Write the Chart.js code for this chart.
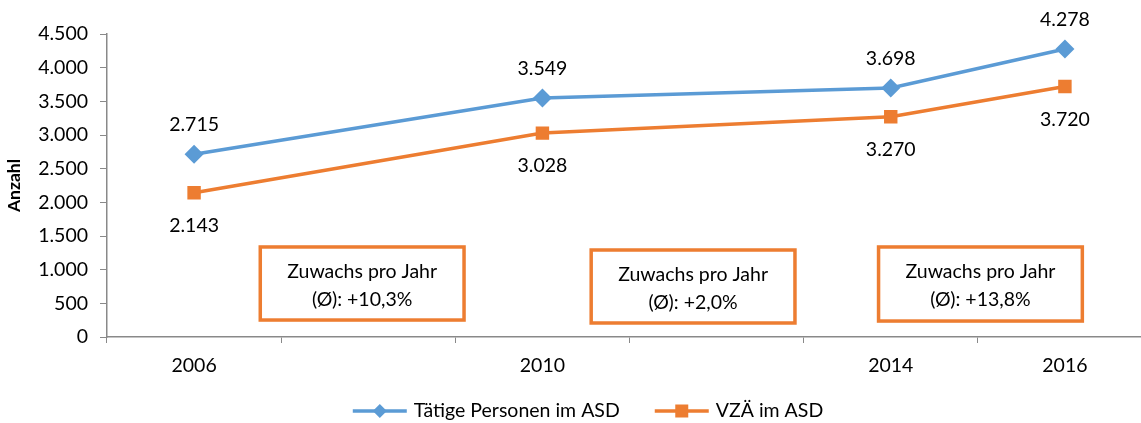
<!DOCTYPE html>
<html>
<head>
<meta charset="utf-8">
<script src="https://cdn.jsdelivr.net/npm/chart.js@4.4.0/dist/chart.umd.min.js"></script>
<style>
  html, body { margin: 0; padding: 0; overflow: hidden; background: #fff; }
  #wrap { width: 1176px; height: 423px; position: relative; }
</style>
</head>
<body>
<div id="wrap"><canvas id="chart"></canvas></div>
<script>
// categories (2008 / 2012 are empty slots on the axis)
const years = ['2006', '2008', '2010', '2012', '2014', '2016'];
const labelledYears = ['2006', '2010', '2014', '2016'];
const taetigePersonen = [2715, null, 3549, null, 3698, 4278];
const vzaeAsd = [2143, null, 3028, null, 3270, 3720];
const yMax = 4500;
const yStep = 500;
const boxTexts = [
  ['Zuwachs pro Jahr', '(Ø): +10,3%'],
  ['Zuwachs pro Jahr', '(Ø): +2,0%'],
  ['Zuwachs pro Jahr', '(Ø): +13,8%']
];

// where the text boxes sit (category index / value units)
const boxPlaces = [
  { x: 0.965, w: 1.17, top: 1337, bottom: 252 },
  { x: 2.865, w: 1.17, top: 1292, bottom: 208 },
  { x: 4.515, w: 1.17, top: 1337, bottom: 237 }
];

const FONT = 'Lato, "Open Sans", sans-serif';
const BLUE = '#5B9BD5';
const ORANGE = '#ED7D31';

function fmt(v) {
  return String(v).replace(/\B(?=(\d{3})+(?!\d))/g, '.');
}

function drawMarker(ctx, style, x, y, r, color) {
  ctx.save();
  ctx.fillStyle = color;
  ctx.beginPath();
  if (style === 'rect') {
    ctx.rect(x - r, y - r, 2 * r, 2 * r);
  } else {
    ctx.moveTo(x, y - r);
    ctx.lineTo(x + r, y);
    ctx.lineTo(x, y + r);
    ctx.lineTo(x - r, y);
    ctx.closePath();
  }
  ctx.fill();
  ctx.restore();
}

const valueLabels = {
  id: 'valueLabels',
  afterDatasetsDraw(chart) {
    const ctx = chart.ctx;
    ctx.save();
    ctx.font = '19.5px ' + FONT;
    ctx.fillStyle = '#000';
    ctx.textAlign = 'center';
    ctx.textBaseline = 'middle';
    chart.data.datasets.forEach((ds, i) => {
      chart.getDatasetMeta(i).data.forEach((pt, j) => {
        if (ds.data[j] == null) return;
        ctx.fillText(fmt(ds.data[j]), pt.x, pt.y + ds.labelShift);
      });
    });
    ctx.restore();
  }
};

const textBoxes = {
  id: 'textBoxes',
  afterDraw(chart) {
    const ctx = chart.ctx;
    const xs = chart.scales.x, ys = chart.scales.y;
    const step = xs.getPixelForValue(1) - xs.getPixelForValue(0);
    ctx.save();
    boxPlaces.forEach((b, i) => {
      const cx = xs.getPixelForValue(b.x);
      const w = b.w * step;
      const top = ys.getPixelForValue(b.top);
      const bottom = ys.getPixelForValue(b.bottom);
      ctx.fillStyle = '#fff';
      ctx.fillRect(cx - w / 2, top, w, bottom - top);
      ctx.strokeStyle = ORANGE;
      ctx.lineWidth = 3.5;
      ctx.strokeRect(cx - w / 2, top, w, bottom - top);
      ctx.fillStyle = '#000';
      ctx.font = '19.5px ' + FONT;
      ctx.textAlign = 'center';
      ctx.textBaseline = 'middle';
      const mid = (top + bottom) / 2;
      ctx.fillText(boxTexts[i][0], cx, mid - 12);
      ctx.fillText(boxTexts[i][1], cx, mid + 16);
    });
    ctx.restore();
  }
};

const lineLegend = {
  id: 'lineLegend',
  afterDraw(chart) {
    const ctx = chart.ctx;
    const y = 411, lineLen = 54, gap = 7, itemGap = 35;
    ctx.save();
    ctx.font = '19.5px ' + FONT;
    ctx.textBaseline = 'middle';
    ctx.textAlign = 'left';
    const items = chart.data.datasets.map(ds => ({ ds, tw: ctx.measureText(ds.label).width }));
    let total = 0;
    items.forEach((it, i) => { total += lineLen + gap + it.tw + (i ? itemGap : 0); });
    let x = chart.width / 2 - total / 2;
    items.forEach((it, i) => {
      if (i) x += itemGap;
      ctx.strokeStyle = it.ds.borderColor;
      ctx.lineWidth = 3.5;
      ctx.beginPath();
      ctx.moveTo(x, y);
      ctx.lineTo(x + lineLen, y);
      ctx.stroke();
      drawMarker(ctx, it.ds.pointStyle, x + lineLen / 2, y, it.ds.pointStyle === 'rect' ? 6.5 : 7, it.ds.borderColor);
      x += lineLen + gap;
      ctx.fillStyle = '#000';
      ctx.fillText(it.ds.label, x, y);
      x += it.tw;
    });
    ctx.restore();
  }
};

new Chart(document.getElementById('chart'), {
  type: 'line',
  data: {
    labels: years,
    datasets: [
      {
        label: 'Tätige Personen im ASD',
        data: taetigePersonen,
        borderColor: BLUE,
        backgroundColor: BLUE,
        borderWidth: 3.5,
        pointStyle: 'rectRot',
        pointRadius: 9.5,
        pointBorderWidth: 0,
        spanGaps: true,
        labelShift: -29
      },
      {
        label: 'VZÄ im ASD',
        data: vzaeAsd,
        borderColor: ORANGE,
        backgroundColor: ORANGE,
        borderWidth: 3.5,
        pointStyle: 'rect',
        pointRadius: 9.5,
        pointBorderWidth: 0,
        spanGaps: true,
        labelShift: 33
      }
    ]
  },
  options: {
    responsive: true,
    maintainAspectRatio: false,
    animation: false,
    layout: { padding: { top: 34, right: 24, left: 0, bottom: 0 } },
    plugins: {
      legend: { display: false },
      tooltip: { enabled: false }
    },
    scales: {
      x: {
        offset: true,
        afterFit(scale) { scale.height = 86; },
        grid: {
          offset: true,
          drawOnChartArea: false,
          drawTicks: true,
          tickLength: 6,
          color: '#898989'
        },
        border: { color: '#898989', width: 1.5 },
        ticks: {
          autoSkip: false,
          maxRotation: 0,
          padding: 11,
          color: '#000',
          font: { family: FONT, size: 19.5 },
          callback(v) {
            const l = this.getLabelForValue(v);
            return labelledYears.includes(l) ? l : '';
          }
        }
      },
      y: {
        min: 0,
        max: yMax,
        afterFit(scale) { scale.width = 107; },
        grid: {
          drawOnChartArea: false,
          drawTicks: true,
          tickLength: 7,
          color: '#898989'
        },
        border: { color: '#898989', width: 1.5 },
        ticks: {
          stepSize: yStep,
          padding: 12,
          color: '#000',
          font: { family: FONT, size: 19.5 },
          callback: v => fmt(v)
        },
        title: {
          display: true,
          text: 'Anzahl',
          color: '#000',
          font: { family: FONT, size: 17.5, weight: 'bold' },
          padding: { top: 4, bottom: 0 }
        }
      }
    }
  },
  plugins: [valueLabels, textBoxes, lineLegend]
});
</script>
</body>
</html>
